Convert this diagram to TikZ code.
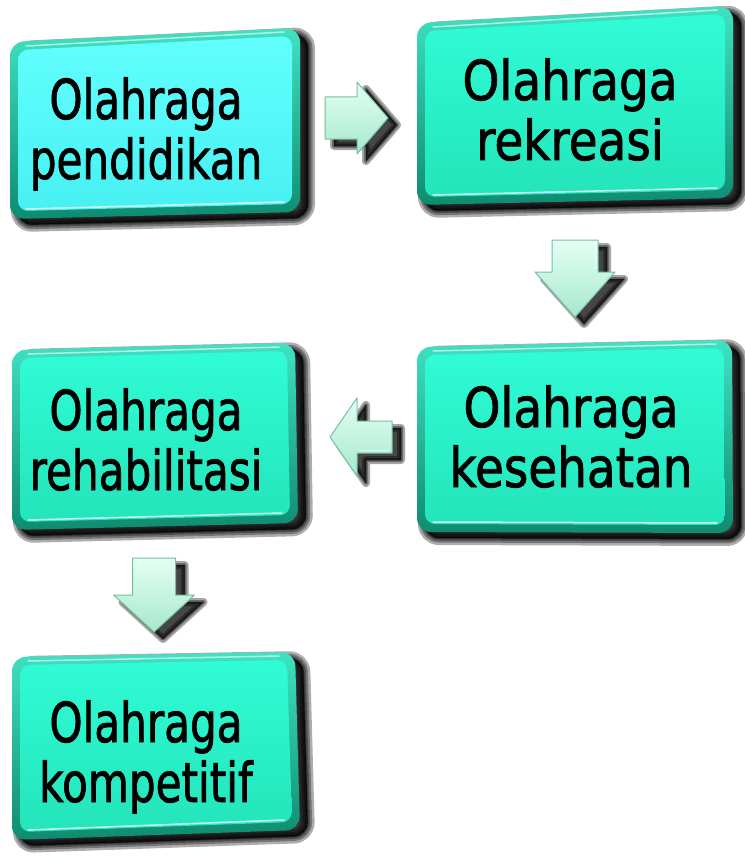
\documentclass[tikz,border=0pt]{standalone}
\usepackage{fontspec}
\setmainfont{DejaVu Sans}
\newfontfamily\labelfont{DejaVu Sans}[FakeBold=1.6]
\usepackage{graphicx}
\usetikzlibrary{calc}

\definecolor{rimlight}{HTML}{3FE2C2}
\definecolor{rimdark}{HTML}{0E8C70}
\definecolor{cyantop}{HTML}{62FFFF}
\definecolor{cyanbot}{HTML}{48F0F2}
\definecolor{tealtop}{HTML}{30FCD6}
\definecolor{tealbot}{HTML}{24E4BA}
\definecolor{minttop}{HTML}{E4FFF4}
\definecolor{mintbot}{HTML}{A6E8CC}
\definecolor{mintedge}{HTML}{78BFA0}

\tikzset{
  txt/.style={inner sep=0pt, text=black, font=\labelfont\fontsize{55}{60}\selectfont},
}

% Bevelled slab: corners TL, TR, BR, BL (x, y measured downwards), face colour prefix
\newcommand{\slab}[9]{%
  \coordinate (tl) at (#1,-#2);
  \coordinate (tr) at (#3,-#4);
  \coordinate (br) at (#5,-#6);
  \coordinate (bl) at (#7,-#8);
  % soft drop shadow
  \foreach \w in {14,9,5,2}{%
    \filldraw[black, opacity=0.32, line width=\w pt, line join=round, rounded corners=14pt]
      ($(tl)+(8,-6)$) -- ($(tr)+(8,-6)$) -- ($(br)+(8,-6)$) -- ($(bl)+(8,-6)$) -- cycle;}
  % rim
  \shade[top color=rimlight, bottom color=rimdark, rounded corners=14pt]
    (tl) -- (tr) -- (br) -- (bl) -- cycle;
  % face
  \shade[top color=#9top, bottom color=#9bot, rounded corners=10pt]
    ($(tl)+(8,-8)$) -- ($(tr)+(-8,-8)$) -- ($(br)+(-8,8)$) -- ($(bl)+(8,8)$) -- cycle;
  % highlights along the rim
  \draw[white, opacity=0.6, line width=1.5pt, line cap=round]
    ($(tl)+(16,-4)$) -- ($(tr)+(-16,-4)$);
  \draw[white, opacity=0.75, line width=1.5pt, line cap=round]
    ($(bl)+(16,10)$) -- ($(br)+(-16,10)$);
}

% Block arrow: name, tail x, tail y, direction, length, shaft half width, head half width, head length
\newcommand{\mintarrow}[8]{%
  \coordinate (#1) at (#2,-#3);
  \begin{scope}[shift={(#2+9,-#3-7)}, rotate=#4]
    \foreach \w in {8,4,1}{%
      \filldraw[black, opacity=0.35, line width=\w pt, line join=round]
        (0,#6) -- (#5-#8,#6) -- (#5-#8,#7) -- (#5,0) -- (#5-#8,-#7) -- (#5-#8,-#6) -- (0,-#6) -- cycle;}
  \end{scope}
  \begin{scope}[shift={(#2,-#3)}, rotate=#4]
    \shade[top color=minttop, bottom color=mintbot, draw=mintedge, line width=1pt, line join=round]
      (0,#6) -- (#5-#8,#6) -- (#5-#8,#7) -- (#5,0) -- (#5-#8,-#7) -- (#5-#8,-#6) -- (0,-#6) -- cycle;
    \draw[white, opacity=0.6, line width=1pt]
      (3,#6-3) -- (#5-#8-3,#6-3);
  \end{scope}
}

\begin{document}
\begin{tikzpicture}[x=1pt, y=1pt]
  \useasboundingbox (0,0) rectangle (744,-856);
  \fill[white] (0,0) rectangle (744,-856);

  % slabs
  \slab{10}{42}{300}{28}{300}{212}{10}{219}{cyan}
  \slab{417}{23}{733}{6}{733}{198}{417}{205}{teal}
  \slab{417}{347}{732}{340}{733}{533}{417}{532}{teal}
  \slab{12}{350}{295}{343}{298}{523}{12}{530}{teal}
  \slab{12}{657}{295}{652}{300}{830}{12}{840}{teal}

  % labels
  \node[txt] (pendidikan) at (146,-137)
    {\scalebox{0.766}[1]{\begin{tabular}{@{}c@{}}Olahraga\\pendidikan\end{tabular}}};
  \node[txt] (rekreasi) at (570,-118)
    {\scalebox{0.853}[1]{\begin{tabular}{@{}c@{}}Olahraga\\rekreasi\end{tabular}}};
  \node[txt] (kesehatan) at (571,-445)
    {\scalebox{0.853}[1]{\begin{tabular}{@{}c@{}}Olahraga\\kesehatan\end{tabular}}};
  \node[txt] (rehabilitasi) at (146,-448)
    {\scalebox{0.766}[1]{\begin{tabular}{@{}c@{}}Olahraga\\rehabilitasi\end{tabular}}};
  \node[txt] (kompetitif) at (146,-760)
    {\scalebox{0.766}[1]{\begin{tabular}{@{}c@{}}Olahraga\\kompetitif\end{tabular}}};

  % block arrows between the slabs
  \mintarrow{a12}{325}{118}{0}{63}{21}{36}{31}
  \mintarrow{a23}{575}{240}{-90}{77}{23}{40}{45}
  \mintarrow{a34}{392}{437}{180}{62}{16}{39}{27}
  \mintarrow{a45}{154}{558}{-90}{74}{21.5}{40.5}{37}
\end{tikzpicture}
\end{document}
